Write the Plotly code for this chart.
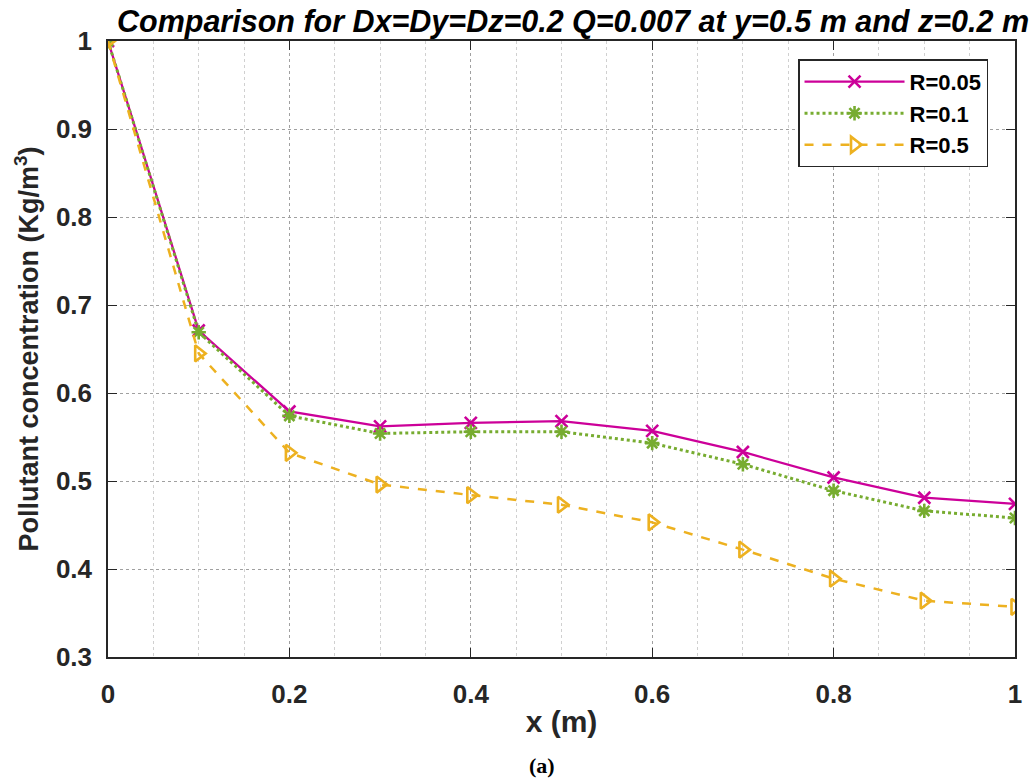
import plotly.graph_objects as go

x_vals = [0, 0.1, 0.2, 0.3, 0.4, 0.5, 0.6, 0.7, 0.8, 0.9, 1.0]
r005 = [1.0, 0.671, 0.579, 0.562, 0.566, 0.568, 0.557, 0.533, 0.504, 0.481, 0.474]
r01 = [1.0, 0.669, 0.574, 0.554, 0.556, 0.556, 0.543, 0.519, 0.489, 0.466, 0.458]
r05 = [1.0, 0.645, 0.532, 0.496, 0.484, 0.473, 0.453, 0.422, 0.389, 0.364, 0.357]
names = ["R=0.05", "R=0.1", "R=0.5"]
x_ticks = [0, 0.2, 0.4, 0.6, 0.8, 1.0]
x_ticktext = ["0", "0.2", "0.4", "0.6", "0.8", "1"]
y_ticks = [0.3, 0.4, 0.5, 0.6, 0.7, 0.8, 0.9, 1.0]
y_ticktext = ["0.3", "0.4", "0.5", "0.6", "0.7", "0.8", "0.9", "1"]

title_text = "Comparison for Dx=Dy=Dz=0.2 Q=0.007 at y=0.5 m and z=0.2 m"
FONT = "Liberation Sans, Arial, Helvetica, sans-serif"

fig = go.Figure()
fig.add_trace(go.Scatter(
    x=x_vals, y=r005, name=names[0], mode="lines+markers",
    line=dict(color="#CC0099", width=2.3, dash="solid"),
    marker=dict(symbol="x-thin-open", size=12, color="#CC0099",
                line=dict(color="#CC0099", width=2.6))))
fig.add_trace(go.Scatter(
    x=x_vals, y=r01, name=names[1], mode="lines+markers",
    line=dict(color="#77AC30", width=3, dash="dot"),
    marker=dict(symbol="asterisk-open", size=12, color="#77AC30",
                line=dict(color="#77AC30", width=2.6))))
fig.add_trace(go.Scatter(
    x=x_vals, y=r05, name=names[2], mode="lines+markers",
    line=dict(color="#EDB120", width=2.5, dash="dash"),
    marker=dict(symbol="triangle-right-open", size=14, color="#EDB120",
                line=dict(color="#EDB120", width=2.6))))

axis_common = dict(
    showline=True, linecolor="#262626", linewidth=1.5, mirror="ticks",
    ticks="inside", ticklen=9, tickcolor="#262626", tickwidth=1.3,
    zeroline=False,
    tickfont=dict(family=FONT, size=26, color="#262626", weight="bold"),
)

fig.update_xaxes(
    range=[0, 1], tickmode="array", tickvals=x_ticks, ticktext=x_ticktext,
    ticklabelstandoff=13,
    showgrid=True, gridcolor="#a0a0a0", griddash="dot", gridwidth=1,
    minor=dict(dtick=0.05, tick0=0, showgrid=True, gridcolor="#d0d0d0",
               griddash="dot", gridwidth=1, ticks=""),
    title=dict(text="x (m)", font=dict(family=FONT, size=30, color="#262626", weight="bold"),
               standoff=3),
    **axis_common)

fig.update_yaxes(
    range=[0.3, 1], tickmode="array", tickvals=y_ticks, ticktext=y_ticktext,
    ticklabelstandoff=9,
    showgrid=True, gridcolor="#a0a0a0", griddash="dot", gridwidth=1,
    title=dict(text="Pollutant concentration (Kg/m<sup>3</sup>)",
               font=dict(family=FONT, size=27, color="#262626", weight="bold"), standoff=9),
    **axis_common)

fig.update_layout(
    width=1034, height=778,
    margin=dict(l=108, r=16, t=41, b=121),
    paper_bgcolor="white", plot_bgcolor="white",
    font=dict(family=FONT, color="#000"),
    title=dict(text=title_text,
               font=dict(family=FONT, size=30.5, color="#000", weight="bold", style="italic"),
               x=573 / 1034, xanchor="center", xref="container",
               y=1 - 21 / 778, yanchor="middle", yref="container"),
    legend=dict(x=0.761, y=0.970, xanchor="left", yanchor="top",
                bgcolor="white", bordercolor="#262626", borderwidth=1.3,
                font=dict(family=FONT, size=22, color="#000", weight="bold"),
                itemwidth=100, tracegroupgap=0),
    showlegend=True,
)

fig.add_annotation(text="<b>(a)</b>", xref="paper", yref="paper",
                   x=(543 - 108) / 910, y=-(765 - 657) / 616, xanchor="center", yanchor="middle",
                   showarrow=False,
                   font=dict(family="Liberation Serif, Times New Roman, serif", size=22, color="#000"))

fig.write_html("out.html")
